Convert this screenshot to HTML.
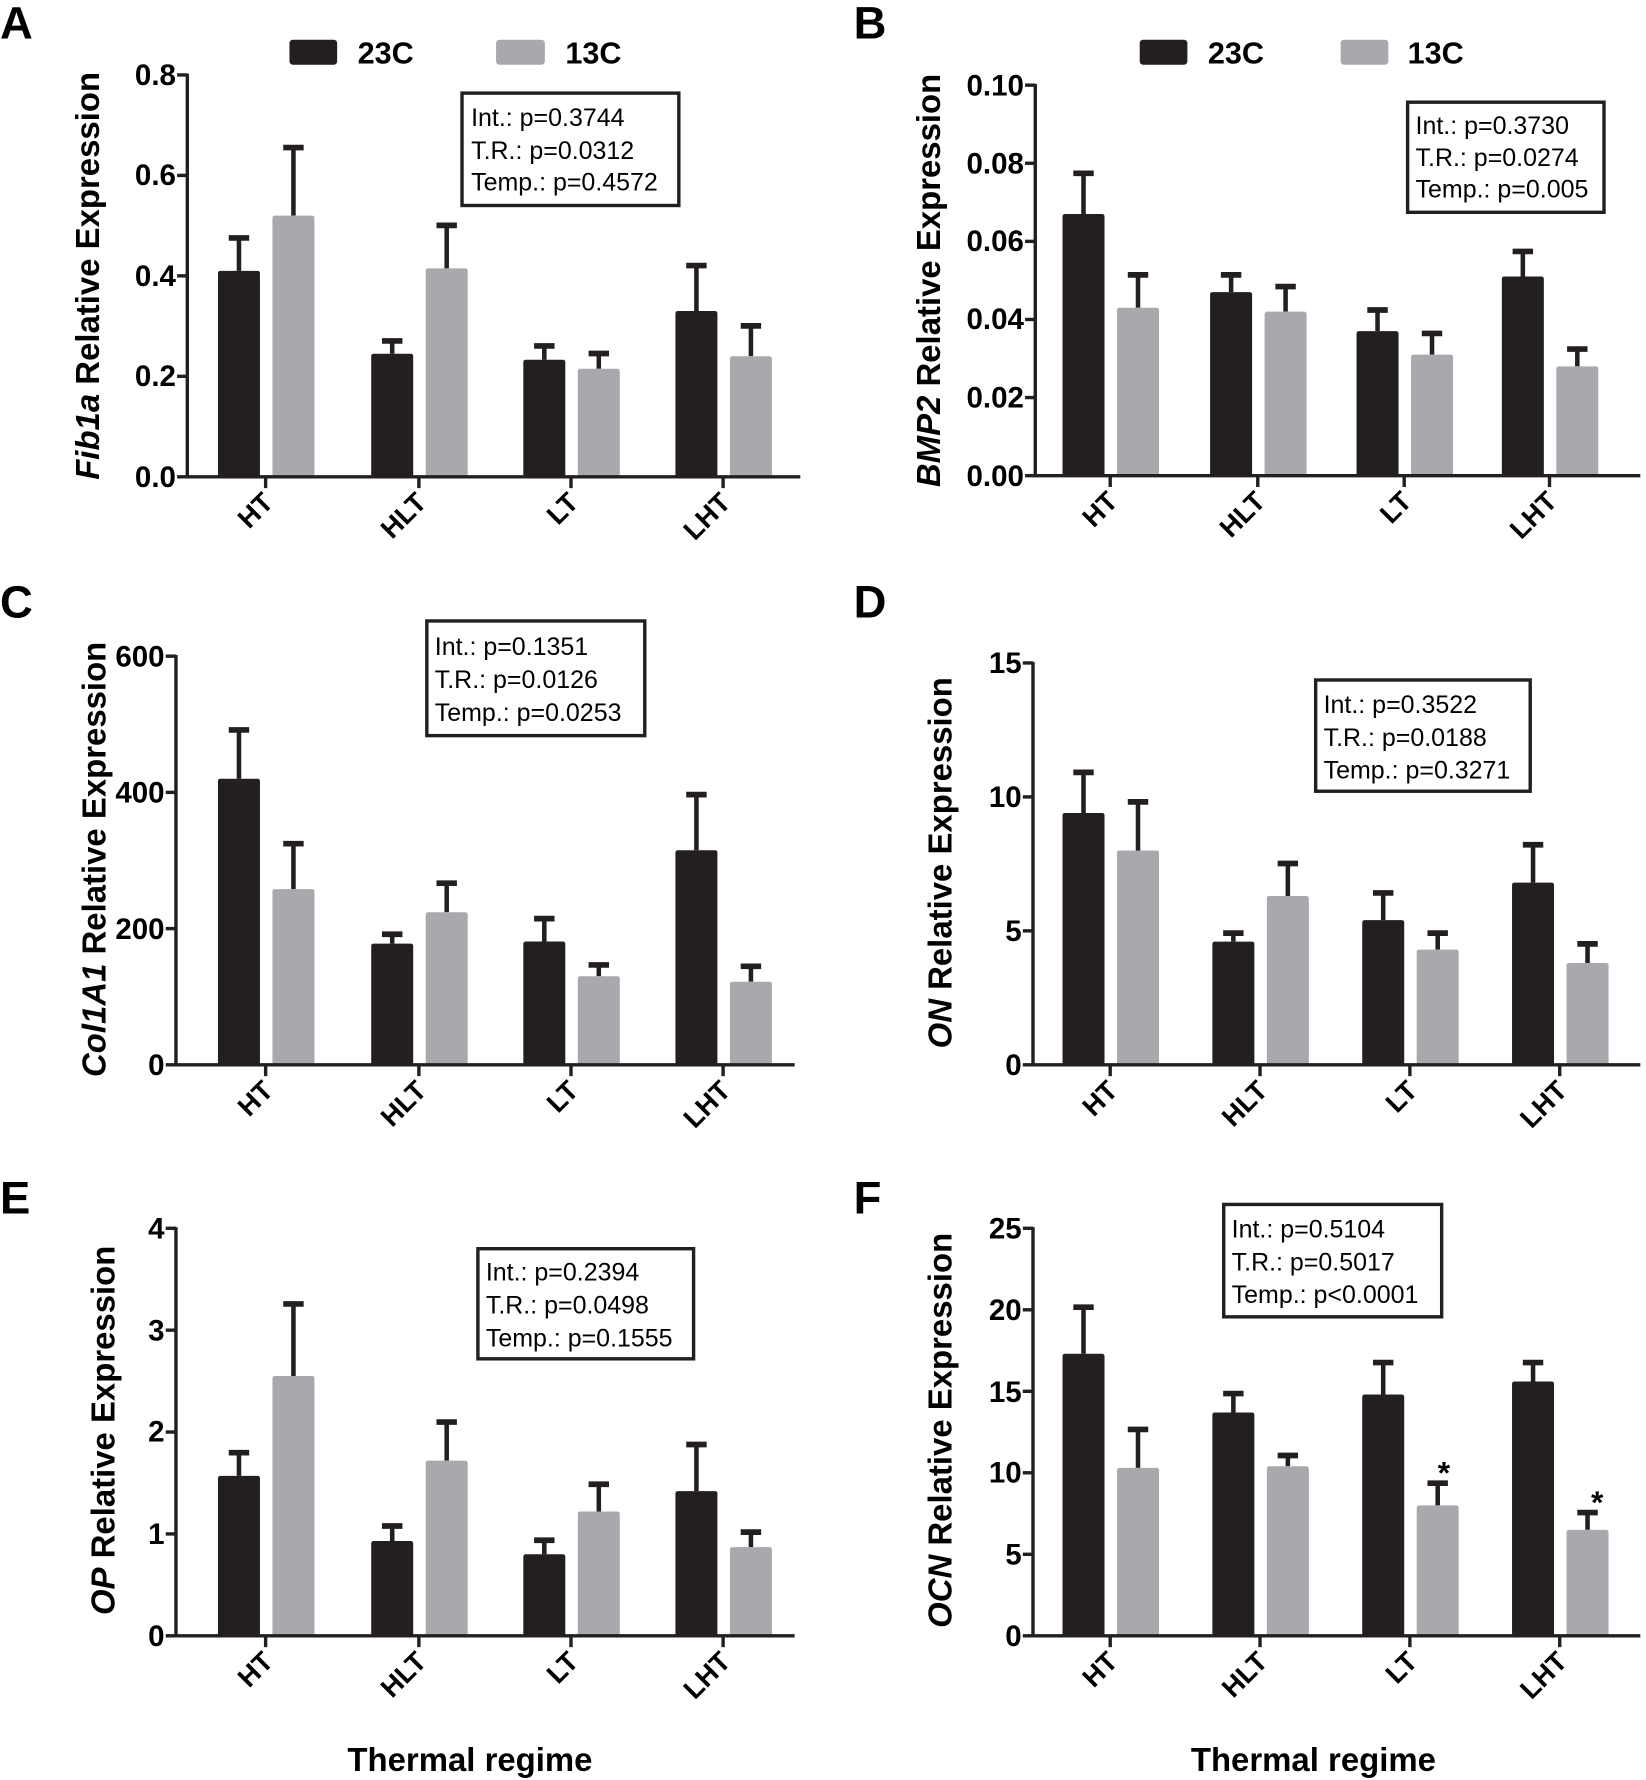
<!DOCTYPE html>
<html><head><meta charset="utf-8"><style>
html,body{margin:0;padding:0;background:#fff;}
svg{display:block;}
text{font-family:"Liberation Sans",Arial,sans-serif;}
.t{font-size:26px;font-weight:bold;text-anchor:end;}
.x{font-size:24px;font-weight:bold;text-anchor:end;}
.yl{font-size:29px;font-weight:bold;text-anchor:middle;}
.st{font-size:22px;}
.L{font-size:40px;font-weight:bold;}
.lg{font-size:27px;font-weight:bold;}
</style></head><body>
<svg id="s" width="1646" height="1780" viewBox="0 0 1450 1568" xmlns="http://www.w3.org/2000/svg">
<g id="g"></g>
<text class="L" x="0" y="34">A</text>
<text class="L" x="752" y="34">B</text>
<text class="L" x="0" y="544">C</text>
<text class="L" x="752" y="544">D</text>
<text class="L" x="0" y="1069">E</text>
<text class="L" x="752" y="1069">F</text>
<rect x="255" y="35" width="42" height="22" rx="3" fill="#231f20"/><text class="lg" x="315" y="56">23C</text>
<rect x="437" y="35" width="43" height="22" rx="3" fill="#a7a9ac"/><text class="lg" x="498" y="56">13C</text>
<rect x="1004" y="35" width="42" height="22" rx="3" fill="#231f20"/><text class="lg" x="1064" y="56">23C</text>
<rect x="1181" y="35" width="42" height="22" rx="3" fill="#a7a9ac"/><text class="lg" x="1240" y="56">13C</text>
<text class="t" x="155" y="429">0.0</text><text class="t" x="155" y="340">0.2</text><text class="t" x="155" y="252">0.4</text><text class="t" x="155" y="163">0.6</text><text class="t" x="155" y="75">0.8</text>
<text class="t" x="902" y="428">0.00</text><text class="t" x="902" y="359">0.02</text><text class="t" x="902" y="290">0.04</text><text class="t" x="902" y="221">0.06</text><text class="t" x="902" y="153">0.08</text><text class="t" x="902" y="84">0.10</text>
<text class="t" x="145" y="947">0</text><text class="t" x="145" y="827">200</text><text class="t" x="145" y="707">400</text><text class="t" x="145" y="587">600</text>
<text class="t" x="900" y="947">0</text><text class="t" x="900" y="829">5</text><text class="t" x="900" y="711">10</text><text class="t" x="900" y="593">15</text>
<text class="t" x="145" y="1450">0</text><text class="t" x="145" y="1360">1</text><text class="t" x="145" y="1270">2</text><text class="t" x="145" y="1181">3</text><text class="t" x="145" y="1091">4</text>
<text class="t" x="900" y="1450">0</text><text class="t" x="900" y="1378">5</text><text class="t" x="900" y="1306">10</text><text class="t" x="900" y="1235">15</text><text class="t" x="900" y="1163">20</text><text class="t" x="900" y="1091">25</text>
<text class="yl" transform="translate(87,243) rotate(-90)"><tspan font-style="italic">Fib1a</tspan> Relative Expression</text>
<text class="yl" transform="translate(828,247) rotate(-90)"><tspan font-style="italic">BMP2</tspan> Relative Expression</text>
<text class="yl" transform="translate(93,757) rotate(-90)"><tspan font-style="italic">Col1A1</tspan> Relative Expression</text>
<text class="yl" transform="translate(838,760) rotate(-90)"><tspan font-style="italic">ON</tspan> Relative Expression</text>
<text class="yl" transform="translate(101,1260) rotate(-90)"><tspan font-style="italic">OP</tspan> Relative Expression</text>
<text class="yl" transform="translate(838,1260) rotate(-90)"><tspan font-style="italic">OCN</tspan> Relative Expression</text>
<text class="yl" x="414" y="1560">Thermal regime</text>
<text class="yl" x="1157" y="1560">Thermal regime</text>
<rect x="407" y="82" width="191" height="99" fill="#fff" stroke="#231f20" stroke-width="3"/>
<text class="st" x="415" y="111">Int.: p=0.3744</text><text class="st" x="415" y="140">T.R.: p=0.0312</text><text class="st" x="415" y="168">Temp.: p=0.4572</text>
<rect x="1240" y="90" width="173" height="97" fill="#fff" stroke="#231f20" stroke-width="3"/>
<text class="st" x="1247" y="118">Int.: p=0.3730</text><text class="st" x="1247" y="146">T.R.: p=0.0274</text><text class="st" x="1247" y="174">Temp.: p=0.005</text>
<rect x="376" y="547" width="192" height="101" fill="#fff" stroke="#231f20" stroke-width="3"/>
<text class="st" x="383" y="577">Int.: p=0.1351</text><text class="st" x="383" y="606">T.R.: p=0.0126</text><text class="st" x="383" y="635">Temp.: p=0.0253</text>
<rect x="1159" y="599" width="189" height="98" fill="#fff" stroke="#231f20" stroke-width="3"/>
<text class="st" x="1166" y="628">Int.: p=0.3522</text><text class="st" x="1166" y="657">T.R.: p=0.0188</text><text class="st" x="1166" y="686">Temp.: p=0.3271</text>
<rect x="421" y="1100" width="190" height="97" fill="#fff" stroke="#231f20" stroke-width="3"/>
<text class="st" x="428" y="1128">Int.: p=0.2394</text><text class="st" x="428" y="1157">T.R.: p=0.0498</text><text class="st" x="428" y="1186">Temp.: p=0.1555</text>
<rect x="1078" y="1061" width="192" height="99" fill="#fff" stroke="#231f20" stroke-width="3"/>
<text class="st" x="1085" y="1090">Int.: p=0.5104</text><text class="st" x="1085" y="1119">T.R.: p=0.5017</text><text class="st" x="1085" y="1148">Temp.: p&lt;0.0001</text>
<text x="1272" y="1307" font-size="28" font-weight="bold" text-anchor="middle">*</text>
<text x="1407" y="1333" font-size="28" font-weight="bold" text-anchor="middle">*</text>
</svg>
<script>
var NS="http://www.w3.org/2000/svg",g=document.getElementById('g');
function el(t,a){var e=document.createElementNS(NS,t);for(var k in a)e.setAttribute(k,a[k]);g.appendChild(e);return e;}
var P=[
{ax:165,y0:420,yt:66,max:0.8,nt:4,xe:705,c:[234,369,503,637],d:[[.41,.48,.52,.66],[.245,.275,.415,.505],[.233,.265,.215,.25],[.33,.425,.24,.305]]},
{ax:912,y0:419,yt:75,max:0.10,nt:5,xe:1445,c:[978,1108,1237,1365],d:[[.067,.078,.043,.052],[.047,.052,.042,.049],[.037,.043,.031,.037],[.051,.058,.028,.033]]},
{ax:155,y0:938,yt:578,max:600,nt:3,xe:700,c:[234,369,503,637],d:[[420,495,258,328],[178,195,224,270],[181,218,130,150],[315,400,122,148]]},
{ax:910,y0:938,yt:584,max:15,nt:3,xe:1445,c:[978,1110,1242,1374],d:[[9.4,11,8,9.9],[4.6,5,6.3,7.6],[5.4,6.5,4.3,5],[6.8,8.3,3.8,4.6]]},
{ax:155,y0:1441,yt:1082,max:4,nt:4,xe:700,c:[234,369,503,637],d:[[1.57,1.82,2.55,3.28],[.93,1.1,1.72,2.12],[.8,.96,1.22,1.51],[1.42,1.9,.87,1.04]]},
{ax:910,y0:1441,yt:1082,max:25,nt:5,xe:1445,c:[978,1110,1242,1374],d:[[17.3,20.3,10.3,12.8],[13.7,15,10.4,11.2],[14.8,16.9,8,9.5],[15.6,16.9,6.5,7.7]]}
];
var names=['HT','HLT','LT','LHT'];
P.forEach(function(p){
 var sc=(p.y0-p.yt)/p.max;
 p.c.forEach(function(c,i){
  var v=p.d[i];
  [[c-42,v[0],v[1],'#231f20'],[c+6,v[2],v[3],'#a7a9ac']].forEach(function(b){
   var yb=p.y0-b[1]*sc, ye=p.y0-b[2]*sc, cx=b[0]+18.5;
   el('line',{x1:cx,x2:cx,y1:yb,y2:ye,stroke:'#231f20','stroke-width':4});
   el('line',{x1:cx-9,x2:cx+9,y1:ye+2,y2:ye+2,stroke:'#231f20','stroke-width':5});
   el('rect',{x:b[0],y:yb,width:37,height:p.y0-yb,rx:2,fill:b[3]});
  });
  el('line',{x1:c,x2:c,y1:p.y0,y2:p.y0+10,stroke:'#231f20','stroke-width':3});
  var t=el('text',{'class':'x',transform:'translate('+(c+8)+','+(p.y0+24)+') rotate(-45)'});
  t.textContent=names[i];
 });
 for(var k=0;k<=p.nt;k++){var y=p.y0-k*(p.y0-p.yt)/p.nt;el('line',{x1:p.ax-9,x2:p.ax,y1:y,y2:y,stroke:'#231f20','stroke-width':3});}
 el('line',{x1:p.ax,x2:p.ax,y1:p.yt-1,y2:p.y0+1.5,stroke:'#231f20','stroke-width':3});
 el('line',{x1:p.ax,x2:p.xe,y1:p.y0,y2:p.y0,stroke:'#231f20','stroke-width':3});
});
</script>
</body></html>
